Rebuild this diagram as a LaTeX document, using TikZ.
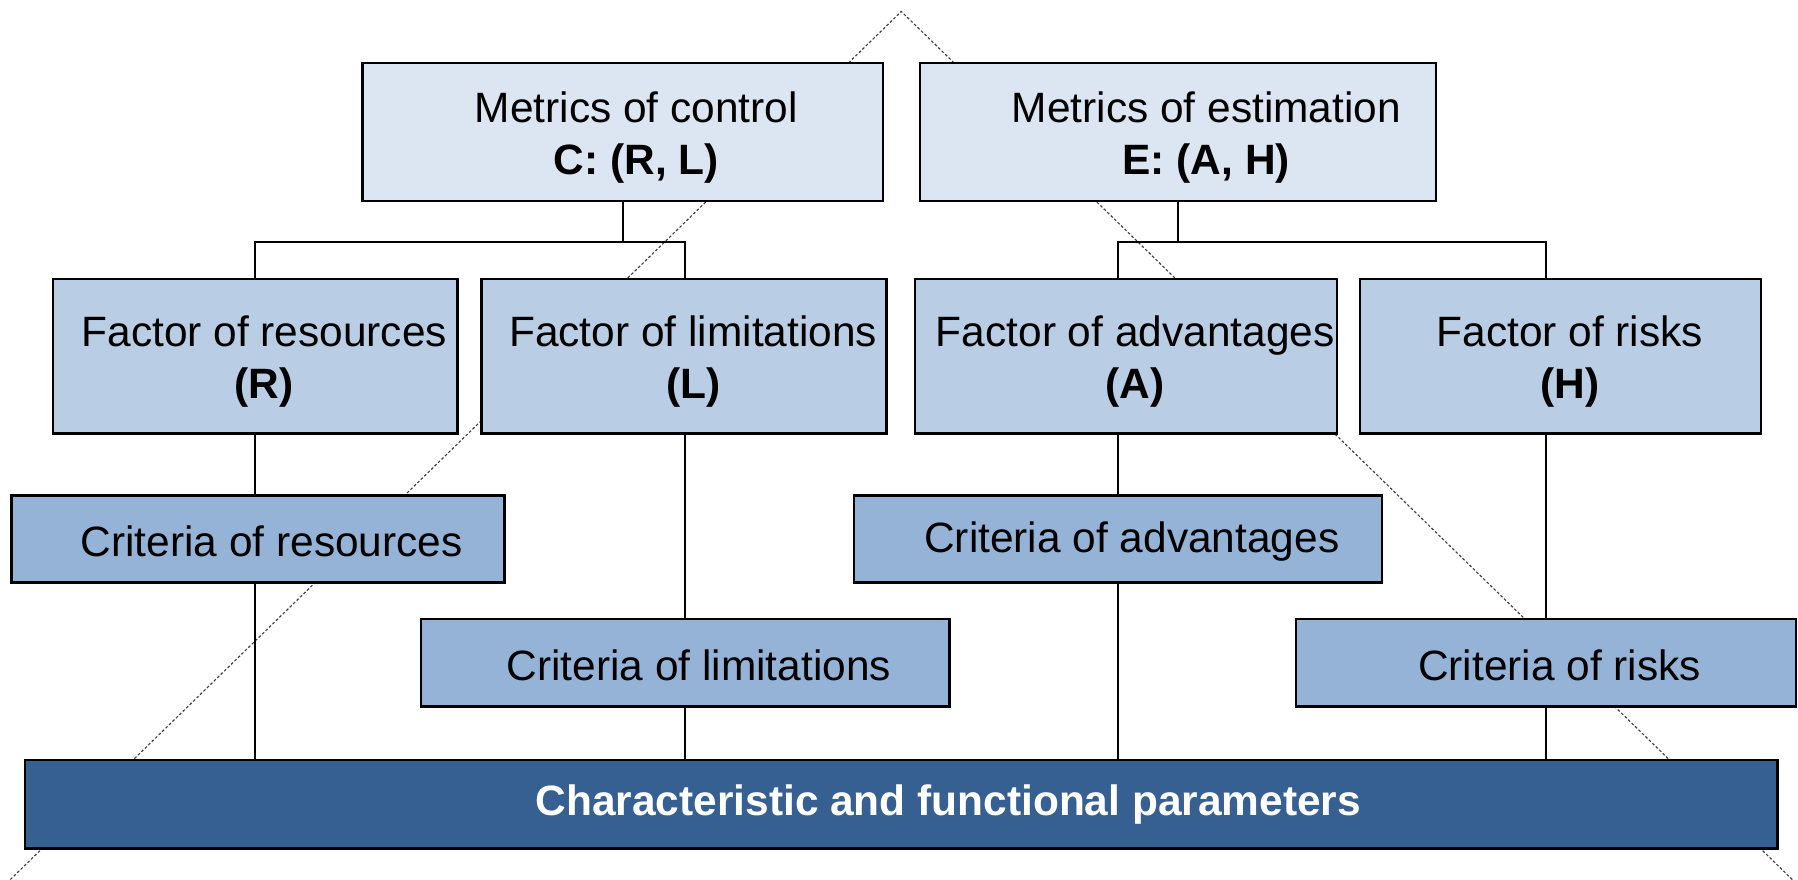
\documentclass[tikz,border=0pt]{standalone}
\usepackage{fontspec}
\setmainfont{Liberation Sans}
\definecolor{metricfill}{HTML}{DCE6F2}
\definecolor{factorfill}{HTML}{B9CDE5}
\definecolor{critfill}{HTML}{95B3D7}
\definecolor{basefill}{HTML}{376092}
\definecolor{guidegray}{HTML}{404040}
\tikzset{
  box/.style={draw=black, line width=1pt, inner sep=0pt, rectangle},
  metricbox/.style={box, fill=metricfill, minimum height=60pt},
  factorbox/.style={box, fill=factorfill, minimum height=67.5pt},
  critbox/.style={box, fill=critfill, minimum height=38pt},
  basebox/.style={box, fill=basefill, minimum height=38.5pt},
  txt/.style={align=center, inner sep=0pt, font=\fontsize{18.5}{22.5}\selectfont},
  link/.style={draw=black, line width=1pt},
  guide/.style={draw=guidegray, line width=0.5pt, dash pattern=on 1.2pt off 0.9pt}
}
\begin{document}
\begin{tikzpicture}[x=0.5pt, y=-0.5pt]
\useasboundingbox (0,0) rectangle (1568,767);

% dotted triangle behind the chart
\coordinate (apex) at (786,10);
\coordinate (baseL) at (9,767);
\coordinate (baseR) at (1563,767);
\draw[guide] (baseL) -- (apex) -- (baseR);

% top level: metrics
\node[metricbox, minimum width=227pt] (ctrl) at (543,115) {};
\node[metricbox, minimum width=225pt] (est)  at (1027,115) {};

% second level: factors
\node[factorbox, minimum width=176.5pt] (fR) at (222.5,310.5) {};
\node[factorbox, minimum width=176.5pt] (fL) at (596.5,310.5) {};
\node[factorbox, minimum width=184pt]   (fA) at (982,310.5) {};
\node[factorbox, minimum width=175pt]   (fH) at (1361,310.5) {};

% third level: criteria
\node[critbox, minimum width=215pt]   (cR) at (225,470) {};
\node[critbox, minimum width=230.5pt] (cL) at (597.5,578) {};
\node[critbox, minimum width=230pt]   (cA) at (975,470) {};
\node[critbox, minimum width=218pt]   (cH) at (1348,578) {};

% base bar
\node[basebox, minimum width=764pt] (base) at (786,701.5) {};

% labels
\node[txt] (ctrlT) at ([xshift=6pt,yshift=-2.5pt]ctrl.center) {Metrics of control\\\textbf{C: (R, L)}};
\node[txt] (estT)  at ([xshift=12.5pt,yshift=-2.5pt]est.center) {Metrics of estimation\\\textbf{E: (A, H)}};
\node[txt] (fRT) at ([xshift=4pt,yshift=-2.5pt]fR.center) {Factor of resources\\\textbf{(R)}};
\node[txt] (fLT) at ([xshift=4pt,yshift=-2.5pt]fL.center) {Factor of limitations\\\textbf{(L)}};
\node[txt] (fAT) at ([xshift=4pt,yshift=-2.5pt]fA.center) {Factor of advantages\\\textbf{(A)}};
\node[txt] (fHT) at ([xshift=4pt,yshift=-2.5pt]fH.center) {Factor of risks\\\textbf{(H)}};
\node[txt] (cRT) at ([xshift=6pt,yshift=-1pt]cR.center) {Criteria of resources};
\node[txt] (cLT) at ([xshift=6pt,yshift=-1pt]cL.center) {Criteria of limitations};
\node[txt] (cAT) at ([xshift=6pt,yshift=-1pt]cA.center) {Criteria of advantages};
\node[txt] (cHT) at ([xshift=6pt,yshift=-1pt]cH.center) {Criteria of risks};
\node[txt, text=white, font=\fontsize{18.5}{22.5}\selectfont\bfseries] (baseT)
  at ([xshift=20.5pt]base.center) {Characteristic and functional parameters};

% tree connectors: metrics to factors
\draw[link] (ctrl.south) -- ++(0,35) coordinate (jC);
\draw[link] (fR.north) |- (jC) -| (fL.north -| cL.north);
\draw[link] (est.south) -- ++(0,35) coordinate (jE);
\draw[link] (fA.north -| cA.north) |- (jE) -| (fH.north -| cH.north);

% factors to criteria
\draw[link] (fR.south) -- (fR.south |- cR.north);
\draw[link] (fL.south -| cL.north) -- (cL.north);
\draw[link] (fA.south -| cA.north) -- (cA.north);
\draw[link] (fH.south -| cH.north) -- (cH.north);

% criteria to the base bar
\draw[link] (cR.south -| fR.south) -- (base.north -| fR.south);
\draw[link] (cL.south) -- (cL.south |- base.north);
\draw[link] (cA.south) -- (cA.south |- base.north);
\draw[link] (cH.south) -- (cH.south |- base.north);
\end{tikzpicture}
\end{document}
